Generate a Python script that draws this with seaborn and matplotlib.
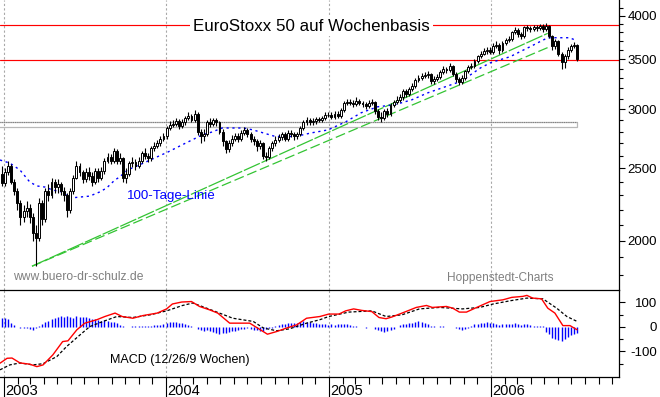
import matplotlib
matplotlib.use("Agg")
import numpy as np
import pandas as pd
import matplotlib.pyplot as plt
import matplotlib.dates as mdates
import matplotlib.transforms as mtransforms
from matplotlib.ticker import FixedLocator, FixedFormatter, NullFormatter
from matplotlib.dates import MonthLocator
from matplotlib.patches import Rectangle
import seaborn as sns

sns.set_style("white")
plt.rcParams["font.family"] = ["Liberation Sans", "DejaVu Sans"]

# ---------------- data ----------------
first_week = "2002-12-27"
n_weeks = 186

open_ = [2460, 2390, 2470, 2520, 2400, 2330, 2250, 2150, 2190, 2210,
         2150, 2050, 2020, 2250, 2140, 2330, 2300, 2400, 2360, 2380,
         2330, 2300, 2200, 2330, 2430, 2520, 2470, 2420, 2470, 2440,
         2400, 2480, 2430, 2480, 2560, 2590, 2560, 2640, 2560, 2580,
         2430, 2460, 2540, 2550, 2520, 2560, 2620, 2600, 2580, 2660,
         2680, 2700, 2740, 2760, 2830, 2860, 2870, 2890, 2850, 2880,
         2920, 2940, 2900, 2960, 2800, 2760, 2780, 2880, 2870, 2900,
         2880, 2800, 2720, 2650, 2700, 2740, 2760, 2740, 2790, 2810,
         2780, 2740, 2720, 2680, 2700, 2600, 2590, 2660, 2700, 2730,
         2750, 2780, 2740, 2790, 2780, 2760, 2780, 2830, 2880, 2900,
         2880, 2890, 2910, 2900, 2920, 2950, 2950, 2930, 2960, 2940,
         2990, 3060, 3070, 3060, 3050, 3080, 3060, 3050, 3030, 3060,
         3070, 2980, 2930, 2920, 2980, 2960, 3040, 3070, 3090, 3110,
         3170, 3140, 3190, 3220, 3280, 3300, 3320, 3330, 3340, 3270,
         3290, 3310, 3360, 3400, 3380, 3430, 3340, 3290, 3260, 3300,
         3370, 3420, 3430, 3480, 3530, 3560, 3590, 3600, 3580, 3650,
         3660, 3600, 3680, 3710, 3720, 3800, 3830, 3780, 3760, 3860,
         3850, 3840, 3860, 3850, 3880, 3840, 3880, 3760, 3640, 3700,
         3560, 3470, 3530, 3600, 3640, 3660]

close = [2390, 2470, 2520, 2400, 2330, 2250, 2150, 2190, 2210, 2150,
         2050, 2020, 2250, 2140, 2330, 2300, 2400, 2360, 2380, 2330,
         2300, 2200, 2330, 2430, 2520, 2470, 2420, 2470, 2440, 2400,
         2480, 2430, 2480, 2560, 2590, 2560, 2640, 2560, 2580, 2430,
         2460, 2540, 2550, 2520, 2560, 2620, 2600, 2580, 2660, 2680,
         2700, 2740, 2760, 2830, 2860, 2870, 2890, 2850, 2880, 2920,
         2940, 2900, 2960, 2800, 2760, 2780, 2880, 2870, 2900, 2880,
         2800, 2720, 2650, 2700, 2740, 2760, 2740, 2790, 2810, 2780,
         2740, 2720, 2680, 2700, 2600, 2590, 2660, 2700, 2730, 2750,
         2780, 2740, 2790, 2780, 2760, 2780, 2830, 2880, 2900, 2880,
         2890, 2910, 2900, 2920, 2950, 2950, 2930, 2960, 2940, 2990,
         3060, 3070, 3060, 3050, 3080, 3060, 3050, 3030, 3060, 3070,
         2980, 2930, 2920, 2980, 2960, 3040, 3070, 3090, 3110, 3170,
         3140, 3190, 3220, 3280, 3300, 3320, 3330, 3340, 3270, 3290,
         3310, 3360, 3400, 3380, 3430, 3340, 3290, 3260, 3300, 3370,
         3420, 3430, 3480, 3530, 3560, 3590, 3600, 3580, 3650, 3660,
         3600, 3680, 3710, 3720, 3800, 3830, 3780, 3760, 3860, 3850,
         3840, 3860, 3850, 3880, 3840, 3880, 3760, 3640, 3700, 3560,
         3470, 3530, 3600, 3640, 3660, 3500]

high = [2520, 2500, 2560, 2530, 2420, 2350, 2270, 2230, 2260, 2240,
        2180, 2100, 2280, 2270, 2350, 2380, 2430, 2420, 2420, 2400,
        2360, 2320, 2350, 2450, 2560, 2540, 2490, 2500, 2510, 2470,
        2500, 2500, 2510, 2580, 2620, 2610, 2660, 2650, 2620, 2590,
        2500, 2560, 2590, 2570, 2590, 2640, 2660, 2620, 2680, 2710,
        2730, 2760, 2790, 2850, 2890, 2900, 2920, 2910, 2910, 2940,
        2970, 2960, 2990, 2970, 2820, 2820, 2900, 2920, 2920, 2920,
        2890, 2820, 2730, 2730, 2770, 2790, 2790, 2810, 2840, 2830,
        2800, 2760, 2740, 2730, 2710, 2630, 2680, 2720, 2760, 2780,
        2800, 2800, 2810, 2810, 2800, 2800, 2850, 2900, 2930, 2920,
        2920, 2930, 2930, 2940, 2970, 2970, 2970, 2980, 2980, 3010,
        3080, 3100, 3100, 3090, 3110, 3100, 3080, 3070, 3090, 3100,
        3080, 3000, 2970, 3000, 3010, 3060, 3090, 3120, 3140, 3190,
        3190, 3210, 3250, 3300, 3330, 3350, 3360, 3370, 3350, 3320,
        3340, 3380, 3430, 3420, 3460, 3440, 3360, 3310, 3330, 3390,
        3440, 3460, 3500, 3550, 3590, 3620, 3630, 3630, 3680, 3700,
        3680, 3700, 3740, 3760, 3820, 3860, 3850, 3800, 3880, 3890,
        3880, 3890, 3890, 3900, 3900, 3910, 3890, 3770, 3730, 3710,
        3580, 3560, 3630, 3670, 3690, 3670]

low = [2370, 2370, 2450, 2380, 2300, 2200, 2100, 2120, 2150, 2110,
       2000, 1850, 2000, 2100, 2120, 2260, 2280, 2320, 2320, 2300,
       2260, 2150, 2180, 2310, 2420, 2440, 2390, 2400, 2410, 2370,
       2380, 2400, 2410, 2460, 2540, 2530, 2540, 2530, 2530, 2400,
       2390, 2440, 2510, 2490, 2500, 2540, 2570, 2550, 2560, 2640,
       2660, 2680, 2720, 2740, 2810, 2840, 2850, 2820, 2830, 2860,
       2900, 2880, 2880, 2770, 2700, 2720, 2760, 2840, 2850, 2850,
       2780, 2680, 2620, 2630, 2680, 2720, 2710, 2720, 2770, 2750,
       2710, 2690, 2640, 2650, 2570, 2560, 2570, 2640, 2680, 2710,
       2730, 2720, 2720, 2750, 2730, 2740, 2760, 2810, 2860, 2860,
       2860, 2870, 2880, 2880, 2900, 2930, 2910, 2910, 2920, 2920,
       2970, 3040, 3040, 3020, 3030, 3040, 3020, 3000, 3010, 3040,
       2960, 2900, 2880, 2900, 2930, 2940, 3020, 3050, 3070, 3090,
       3110, 3120, 3170, 3200, 3260, 3280, 3300, 3300, 3240, 3240,
       3270, 3290, 3340, 3350, 3360, 3320, 3260, 3230, 3240, 3280,
       3350, 3400, 3410, 3460, 3510, 3540, 3560, 3560, 3560, 3620,
       3560, 3580, 3660, 3690, 3700, 3780, 3750, 3720, 3740, 3820,
       3810, 3820, 3820, 3830, 3810, 3820, 3740, 3600, 3610, 3530,
       3400, 3410, 3500, 3580, 3620, 3480]

ma_dates = ["2002-12-23", "2003-01-14", "2003-02-06", "2003-02-28", "2003-03-16",
            "2003-04-03", "2003-04-21", "2003-05-13", "2003-05-29", "2003-06-20",
            "2003-07-13", "2003-08-04", "2003-08-20", "2003-09-07", "2003-09-18",
            "2003-10-06", "2003-11-06", "2003-12-06", "2004-01-05", "2004-02-05",
            "2004-02-28", "2004-03-22", "2004-04-13", "2004-05-06", "2004-05-29",
            "2004-06-23", "2004-07-15", "2004-08-07", "2004-08-30", "2004-09-21",
            "2004-10-23", "2004-11-22", "2004-12-30", "2005-02-08", "2005-03-15",
            "2005-04-21", "2005-05-29", "2005-07-07", "2005-08-12", "2005-09-20",
            "2005-10-29", "2005-11-16", "2005-12-09", "2005-12-31", "2006-01-21",
            "2006-02-13", "2006-03-07", "2006-03-30", "2006-04-21", "2006-05-09",
            "2006-05-20", "2006-06-27", "2006-07-08"]
ma_values = [2565, 2541, 2487, 2397, 2368, 2360, 2338, 2324, 2281, 2288,
             2295, 2324, 2353, 2410, 2434, 2487, 2533, 2581, 2629, 2686,
             2728, 2771, 2796, 2831, 2831, 2831, 2814, 2788, 2762, 2754,
             2762, 2788, 2814, 2885, 2967, 3022, 3041, 3088, 3155, 3214,
             3274, 3335, 3408, 3461, 3493, 3526, 3580, 3636, 3693, 3739,
             3739, 3739, 3716]

macd_dates = ["2002-12-23", "2003-01-08", "2003-01-19", "2003-02-06", "2003-02-28",
              "2003-03-16", "2003-03-30", "2003-04-21", "2003-05-13", "2003-05-25",
              "2003-06-14", "2003-07-02", "2003-07-29", "2003-08-16", "2003-09-08",
              "2003-09-24", "2003-10-18", "2003-11-10", "2003-12-12", "2004-01-02",
              "2004-01-15", "2004-02-05", "2004-02-27", "2004-03-16", "2004-04-08",
              "2004-04-26", "2004-05-23", "2004-06-14", "2004-07-07", "2004-07-23",
              "2004-08-16", "2004-09-06", "2004-09-28", "2004-10-21", "2004-11-12",
              "2004-12-12", "2005-01-01", "2005-01-24", "2005-02-08", "2005-02-26",
              "2005-03-16", "2005-04-08", "2005-04-24", "2005-05-10", "2005-05-23",
              "2005-06-15", "2005-07-17", "2005-08-09", "2005-08-22", "2005-09-23",
              "2005-10-07", "2005-10-22", "2005-11-07", "2005-11-30", "2005-12-30",
              "2006-01-28", "2006-02-17", "2006-03-14", "2006-03-23", "2006-04-05",
              "2006-04-25", "2006-05-09", "2006-05-25", "2006-06-12", "2006-06-28",
              "2006-07-14"]
macd_values = [-148, -128, -127, -147, -152, -162, -155, -114, -60, -57,
               -12, 15, 29, 42, 56, 42, 35, 46, 56, 73,
               93, 101, 103, 83, 69, 56, 15, 15, 15, -3,
               -30, -19, -5, 8, 35, 42, 52, 52, 65, 73,
               67, 62, 38, 33, 40, 56, 79, 87, 79, 83,
               76, 60, 60, 79, 103, 110, 120, 124, 128, 117,
               114, 76, 56, 5, 5, -12]

signal_dates = ["2002-12-23", "2003-01-14", "2003-02-06", "2003-03-07", "2003-03-30",
                "2003-04-30", "2003-05-22", "2003-06-21", "2003-07-13", "2003-08-12",
                "2003-09-12", "2003-10-18", "2003-11-26", "2004-01-02", "2004-02-07",
                "2004-03-01", "2004-04-01", "2004-04-30", "2004-05-30", "2004-07-15",
                "2004-08-07", "2004-09-06", "2004-10-05", "2004-11-12", "2004-12-12",
                "2005-01-01", "2005-02-15", "2005-04-08", "2005-05-10", "2005-06-15",
                "2005-07-24", "2005-09-07", "2005-10-29", "2005-12-07", "2006-01-06",
                "2006-02-13", "2006-03-23", "2006-04-28", "2006-05-29", "2006-06-21",
                "2006-07-14"]
signal_values = [-175, -155, -147, -155, -150, -121, -80, -33, 1, 22,
                 42, 38, 49, 65, 87, 97, 76, 56, 35, 22,
                 -5, -16, -8, 15, 29, 42, 60, 65, 42, 49,
                 73, 79, 73, 79, 93, 106, 117, 114, 76, 42,
                 22]

hist_values = [35, 35, 33, 15, 8, -2, -4, -6, -5, -8,
               -12, -6, 3, 12, 18, 25, 32, 38, 41, 43,
               42, 43, 40, 38, 45, 40, 42, 40, 36, 32,
               30, 28, 24, 28, 24, 20, 18, 14, 8, 2,
               -2, 0, 2, 4, 5, 5, 4, 5, 5, 6,
               6, 8, 10, 14, 18, 20, 18, 15, 14, 10,
               6, 3, -2, -8, -12, -15, -14, -18, -22, -25,
               -28, -26, -24, -20, -18, -15, -12, -10, -8, -6,
               -10, -12, -14, -15, -15, -10, -6, -3, 2, 6,
               10, 12, 14, 15, 14, 16, 20, 22, 20, 18,
               16, 14, 12, 12, 10, 8, 10, 8, 10, 10,
               12, 10, 8, 5, 2, 0, -2, -4, -2, -1,
               -8, -14, -18, -19, -16, -12, -8, -2, 6, 10,
               12, 14, 16, 20, 22, 18, 14, 10, 4, 2,
               1, 3, 2, 1, 1, -2, -6, -10, -12, -10,
               -6, 4, 10, 12, 14, 16, 18, 16, 14, 12,
               8, 10, 12, 10, 12, 14, 10, 8, 10, 10,
               8, 4, 2, 3, 2, -19, -30, -44, -50, -55,
               -57, -48, -40, -33, -30, -26]

trend_a_dates = ["2003-03-05", "2006-05-09"]
trend_a_values = [1849, 3790]
trend_b_dates = ["2003-03-05", "2006-05-13"]
trend_b_values = [1849, 3636]

red_levels = [3890, 3490]
band_low, band_high = 2843, 2881
band_end = "2006-07-14"

year_dates = ["2003-01-01", "2004-01-01", "2005-01-01", "2006-01-01"]
year_labels = ["2003", "2004", "2005", "2006"]

price_ticks = [2000, 2500, 3000, 3500, 4000]
price_tick_labels = ["2000", "2500", "3000", "3500", "4000"]
price_minor = [1800, 1900, 2100, 2200, 2300, 2400, 2600, 2700, 2800, 2900,
               3100, 3200, 3300, 3400, 3600, 3700, 3800, 3900, 4100]
macd_ticks = [-100, 0, 100]
macd_tick_labels = ["-100", "0", "100"]
macd_minor = [-150, -50, 50]

x_start, x_end = "2002-12-23", "2006-10-17"

# ---------------- figure ----------------
W, H = 660, 397
fig = plt.figure(figsize=(W / 100, H / 100), dpi=100)
right = 619.3 / W
ax1 = fig.add_axes([0, 1 - 289.5 / H, right, 289.5 / H])
ax2 = fig.add_axes([0, 1 - 376.7 / H, right, (376.7 - 289.5) / H])

weeks = pd.date_range(first_week, periods=n_weeks, freq="7D")
wx = mdates.date2num(weeks)
o = np.array(open_, float)
c = np.array(close, float)
hi = np.array(high, float)
lo = np.array(low, float)
x0 = mdates.date2num(pd.Timestamp(x_start))
x1 = mdates.date2num(pd.Timestamp(x_end))

ax1.set_yscale("log")

# year grid lines
for yd in year_dates:
    for ax in (ax1, ax2):
        ax.axvline(mdates.date2num(pd.Timestamp(yd)), color="#a8a8a8", lw=0.8,
                   ls=(0, (2, 2)), zorder=1)

# band
xe = mdates.date2num(pd.Timestamp(band_end))
ax1.add_patch(Rectangle((x0 - 5, band_low), xe - x0 + 5, band_high - band_low,
                        facecolor="none", edgecolor="#b8b8b8", lw=0.9, zorder=1))
ax1.plot([x0 - 5, xe], [band_high, band_high], color="#808080", lw=0.8,
         ls=(0, (1, 1)), zorder=1)

# red horizontal lines
for lv in red_levels:
    ax1.axhline(lv, color="#ff0000", lw=0.85, zorder=2)

# trend lines
sns.lineplot(x=pd.to_datetime(trend_a_dates), y=trend_a_values, ax=ax1,
             color="#33c433", lw=0.9, linestyle=(0, (14, 1.5)), zorder=2)
sns.lineplot(x=pd.to_datetime(trend_b_dates), y=trend_b_values, ax=ax1,
             color="#33c433", lw=0.9, linestyle=(0, (8, 3)), zorder=2)

# 100-day line
sns.lineplot(x=pd.to_datetime(ma_dates), y=ma_values, ax=ax1,
             color="#0000ff", lw=1.0, linestyle=(0, (1.6, 2.6)), zorder=2)

# candles
ax1.vlines(wx, lo, hi, color="black", lw=0.8, zorder=3)
ax1.bar(wx, np.abs(c - o), bottom=np.minimum(o, c), width=4.3,
        color=np.where(c >= o, "white", "black"), edgecolor="black",
        linewidth=0.7, zorder=4)

ax1.set_xlim(x0, x1)
ax1.set_ylim(1721, 4200)
for s in ("left", "top", "bottom"):
    ax1.spines[s].set_visible(False)
ax1.spines["right"].set_color("black")
ax1.spines["right"].set_linewidth(0.9)
ax1.yaxis.tick_right()
ax1.yaxis.set_major_locator(FixedLocator(price_ticks))
ax1.yaxis.set_major_formatter(FixedFormatter(price_tick_labels))
ax1.yaxis.set_minor_locator(FixedLocator(price_minor))
ax1.yaxis.set_minor_formatter(NullFormatter())
ax1.tick_params(axis="x", which="both", bottom=False, top=False,
                labelbottom=False)
ax1.tick_params(axis="y", which="major", direction="out", length=4.3,
                width=0.8, colors="black", labelsize=9.5, pad=22.8,
                left=False, right=True, labelleft=False, labelright=True)
ax1.tick_params(axis="y", which="minor", direction="out", length=2.6,
                width=0.8, colors="black", left=False, right=True)
for t in ax1.get_yticklabels():
    t.set_horizontalalignment("right")
ax1.set_xlabel("")
ax1.set_ylabel("")
ax1.grid(False)

# ---------------- MACD panel ----------------
ax2.vlines(wx, 0, hist_values, color="#0000ff", lw=1.0, zorder=2)
sns.lineplot(x=pd.to_datetime(signal_dates), y=signal_values, ax=ax2,
             color="black", lw=0.9, linestyle=(0, (2.4, 1.6)), zorder=3)
sns.lineplot(x=pd.to_datetime(macd_dates), y=macd_values, ax=ax2,
             color="#ff0000", lw=1.0, zorder=4)

ax2.set_xlim(x0, x1)
ax2.set_ylim(-203, 152)
ax2.spines["left"].set_visible(False)
for s in ("top", "bottom", "right"):
    ax2.spines[s].set_color("black")
    ax2.spines[s].set_linewidth(0.9)
ax2.yaxis.tick_right()
ax2.yaxis.set_major_locator(FixedLocator(macd_ticks))
ax2.yaxis.set_major_formatter(FixedFormatter(macd_tick_labels))
ax2.yaxis.set_minor_locator(FixedLocator(macd_minor))
ax2.yaxis.set_minor_formatter(NullFormatter())
ax2.tick_params(axis="y", which="major", direction="out", length=4.3,
                width=0.8, colors="black", labelsize=9.5, pad=22.8,
                left=False, right=True, labelleft=False, labelright=True)
ax2.tick_params(axis="y", which="minor", direction="out", length=2.6,
                width=0.8, colors="black", left=False, right=True)
for t in ax2.get_yticklabels():
    t.set_horizontalalignment("right")

ax2.xaxis.set_major_locator(FixedLocator(
    [mdates.date2num(pd.Timestamp(d)) for d in year_dates]))
ax2.xaxis.set_major_formatter(NullFormatter())
ax2.xaxis.set_minor_locator(MonthLocator(bymonth=range(2, 13)))
ax2.xaxis.set_minor_formatter(NullFormatter())
ax2.tick_params(axis="x", which="major", direction="out", length=15,
                width=0.8, colors="black", bottom=True, top=False)
ax2.tick_params(axis="x", which="minor", direction="out", length=5,
                width=0.8, colors="black", bottom=True, top=False)
ax2.set_xlabel("")
ax2.set_ylabel("")
ax2.grid(False)

# year labels
trans = mtransforms.blended_transform_factory(ax2.transData, fig.transFigure)
for yd, lab in zip(year_dates, year_labels):
    ax2.text(mdates.date2num(pd.Timestamp(yd)) + 2.5, 1 - 395 / H, lab,
             transform=trans, ha="left", va="baseline", fontsize=10.5,
             color="black", clip_on=False)

# ---------------- texts ----------------
def px(x, y):
    return x / W, 1 - y / H

fig.text(*px(311.5, 30.7), "EuroStoxx 50 auf Wochenbasis", ha="center",
         va="baseline", fontsize=12.2, color="black",
         bbox=dict(facecolor="white", edgecolor="none", pad=2.0))
fig.text(*px(127, 199), "100-Tage-Linie", ha="left", va="baseline",
         fontsize=9.6, color="#0000ff")
fig.text(*px(13, 280), "www.buero-dr-schulz.de", ha="left", va="baseline",
         fontsize=8.7, color="#808080")
fig.text(*px(447, 281.5), "Hoppenstedt-Charts", ha="left", va="baseline",
         fontsize=8.6, color="#808080")
fig.text(*px(110, 362.5), "MACD (12/26/9 Wochen)", ha="left", va="baseline",
         fontsize=9.0, color="black")

fig.savefig("out.png", dpi=100)
